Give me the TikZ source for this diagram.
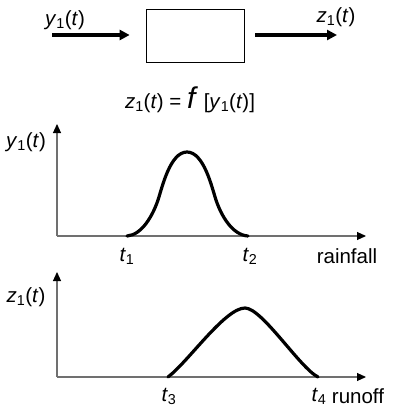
\documentclass[tikz,border=0pt]{standalone}
\usepackage{fontspec}
\setmainfont{Liberation Sans}
\usetikzlibrary{arrows.meta,positioning,calc}
\definecolor{ax}{RGB}{112,112,112}
\newcommand{\sig}[2]{\textit{#1}\textsubscript{#2}(\textit{t})}

\begin{document}
\begin{tikzpicture}[x=1pt,y=-1pt,
    lbl/.style={font=\fontsize{20.5}{22}\selectfont,inner sep=0pt},
    blk/.style={rectangle,draw,line width=0.7pt,minimum width=98pt,minimum height=53pt},
    arr/.style={-{Triangle[length=10pt,width=10pt]},line width=3.2pt},
    axis/.style={draw=ax,line width=1.1pt,-{Triangle[length=9pt,width=8pt,color=black]}},
    crv/.style={line width=3.2pt,line cap=round},
]
\useasboundingbox (0,0) rectangle (393,407);

% system block
\node[blk] (sys) at (195,35.5) {};
\coordinate (in) at (52,35);
\coordinate (out) at (337,35);
\draw[arr,shorten >=16pt] (in) -- (sys.west |- in);
\draw[arr,shorten <=11pt] (sys.east |- out) -- (out);
\node[lbl] (yin) at (65,20) {\sig{y}{1}};
\node[lbl] (zout) at (336,17) {\sig{z}{1}};
\node[lbl] (eq) at (190,100) {\sig{z}{1} = {\fontsize{30}{30}\selectfont\textit{f}} [\sig{y}{1}]};

% rainfall
\coordinate (o1) at (57,236);
\coordinate (ytop) at (57,124);
\coordinate (xend1) at (366,236);
\draw[axis] (o1) -- (ytop);
\draw[axis] (o1) -- (xend1);
\coordinate (t1) at (127,236);
\coordinate (p1) at (187,152);
\coordinate (t2) at (248,236);
\draw[crv] (t1) .. controls (142,235) and (153,215) .. (158,200) .. controls (162,188) and (170,152) .. (p1)
  .. controls (204,152) and (212,188) .. (216,200) .. controls (221,215) and (232,235) .. (t2);
\node[lbl] (ylab) at (26,142) {\sig{y}{1}};
\node[lbl] (lt1) at (127,256) {\textit{t}\textsubscript{1}};
\node[lbl] (lt2) at (250,256) {\textit{t}\textsubscript{2}};
\node[lbl] (rain) at (347,256) {rainfall};

% runoff
\coordinate (o2) at (57,377);
\coordinate (ztop) at (57,272);
\coordinate (xend2) at (366,377);
\draw[axis] (o2) -- (ztop);
\draw[axis] (o2) -- (xend2);
\coordinate (t3) at (168,377);
\coordinate (p2) at (245,308);
\coordinate (t4) at (318,377);
\draw[crv] (t3) .. controls (188,362) and (225,308) .. (p2) .. controls (262,308) and (300,368) .. (t4);
\node[lbl] (zlab) at (26,297) {\sig{z}{1}};
\node[lbl] (lt3) at (169,396) {\textit{t}\textsubscript{3}};
\node[lbl] (lt4) at (319,396) {\textit{t}\textsubscript{4}};
\node[lbl] (run) at (358,396) {runoff};
\end{tikzpicture}
\end{document}
